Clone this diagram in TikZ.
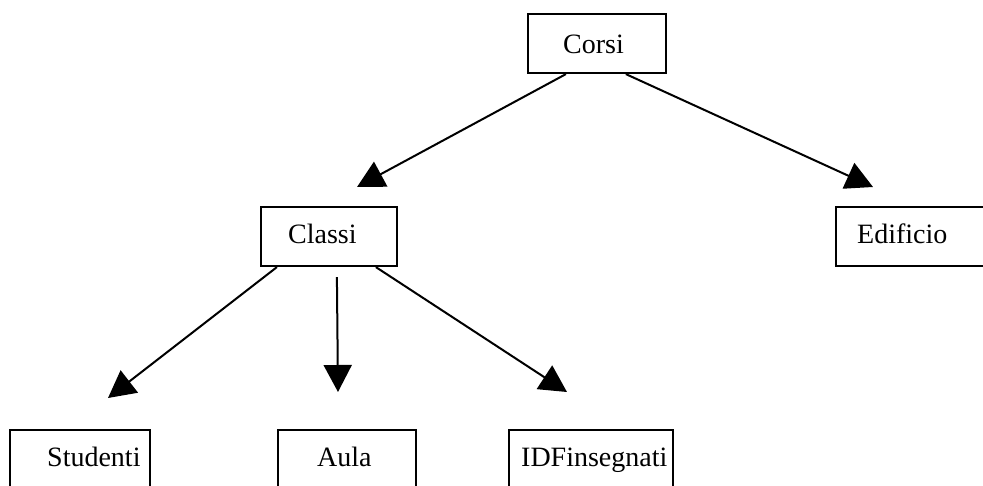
\documentclass[tikz,border=0pt]{standalone}
\usepackage{fontspec}
\setmainfont{Liberation Serif}
\usetikzlibrary{arrows.meta,calc}
\begin{document}
\begin{tikzpicture}[x=1pt,y=-1pt,
  box/.style={draw,line width=2.2pt,inner sep=0pt,minimum height=59pt},
  lbl/.style={anchor=base west,inner sep=0pt,font=\fontsize{28}{33}\selectfont},
  link/.style={line width=2pt,-{Triangle[length=27pt,width=28pt]}}]
\useasboundingbox (0,0) rectangle (983,485);
\fill[white] (0,0) rectangle (983,485);
% boxes
\node[box,minimum width=138pt] (corsi) at (597,43.5) {};
\node[box,minimum width=136pt] (classi) at (329,236.5) {};
\node[box,minimum width=159pt] (edificio) at (915.5,236.5) {};
\node[box,minimum width=140pt,minimum height=70pt] (studenti) at (80,465) {};
\node[box,minimum width=138pt,minimum height=70pt] (aula) at (347,465) {};
\node[box,minimum width=164pt,minimum height=70pt] (idf) at (591,465) {};
% labels
\node[lbl] (tcorsi) at (563,53) {Corsi};
\node[lbl] (tclassi) at (288,243) {Classi};
\node[lbl] (tedificio) at (857,243) {Edificio};
\node[lbl] (tstudenti) at (47,466) {Studenti};
\node[lbl] (taula) at (317,466) {Aula};
\node[lbl] (tidf) at (521,466) {IDFinsegnati};
% arrow ends
\coordinate (e1) at (357,187);
\coordinate (e2) at (873,187);
\coordinate (e3) at (108,398);
\coordinate (e4) at (338,392);
\coordinate (e5) at (567,392);
% connectors
\draw[link] ($(corsi.south west)+(39,0)$) -- (e1);
\draw[link] ($(corsi.south west)+(99,0)$) -- (e2);
\draw[link] ($(classi.south west)+(17,0)$) -- (e3);
\draw[link] ($(classi.south west)+(77,10)$) -- (e4);
\draw[link] ($(classi.south west)+(116,0)$) -- (e5);
\end{tikzpicture}
\end{document}
